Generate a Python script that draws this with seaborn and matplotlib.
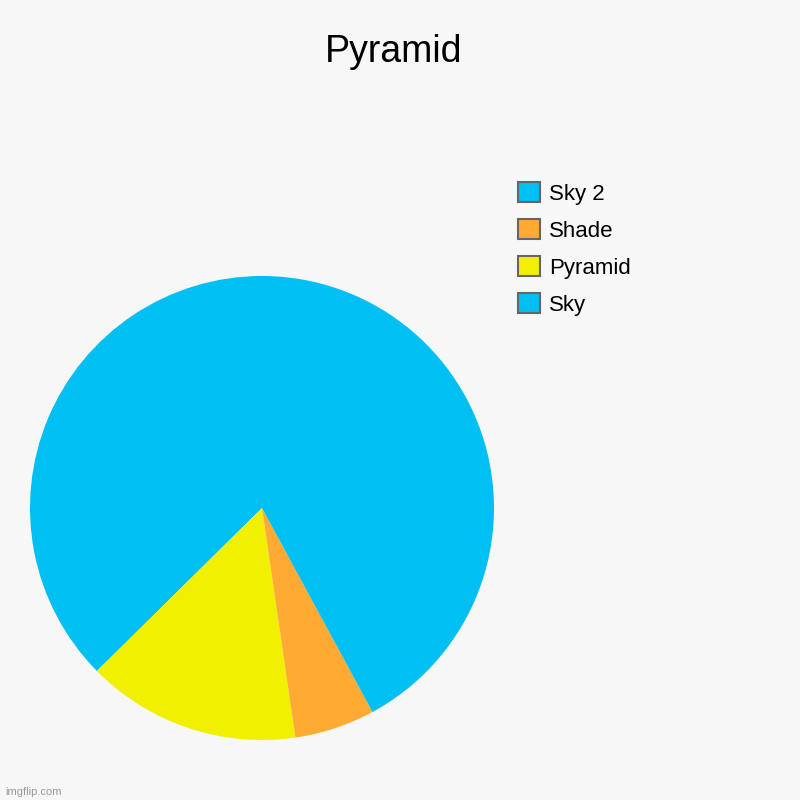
import matplotlib
matplotlib.use("Agg")
import matplotlib.pyplot as plt
from matplotlib.patches import Patch
import seaborn as sns

# ----------- DATOS -----------

etiquetas = ["Sky", "Pyramid", "Shade", "Sky 2"]
valores = [37.4, 14.9, 5.6, 42.1]
colores = ["#00BFF3", "#F0F000", "#FFAA33", "#00BFF3"]

# ----------- ESTILO -----------

sns.set_style("white")
plt.rcParams['font.family'] = ['Liberation Sans', 'DejaVu Sans']
plt.rcParams['text.color'] = 'black'
fondo = "#F7F7F7"

fig = plt.figure(figsize=(8, 8), dpi=100, facecolor=fondo)

# Ejes del pastel (centro ~ (262, 508) px, radio ~ 232 px)
ax = fig.add_axes([0.0375, 0.075, 0.58, 0.58])
ax.set_facecolor(fondo)
ax.pie(valores, colors=colores, startangle=90, counterclock=True,
       wedgeprops=dict(linewidth=0))
ax.set_xlim(-1, 1)
ax.set_ylim(-1, 1)
ax.set_aspect('equal')
ax.axis('off')

fig.suptitle("Pyramid", fontsize=27, x=0.4925, y=0.958, color="black")

# Leyenda en orden inverso
handles = [Patch(facecolor=c, edgecolor="#666666", linewidth=1.5, label=l)
           for l, c in zip(etiquetas, colores)][::-1]
fig.legend(handles=handles, loc='upper left', bbox_to_anchor=(0.6475, 0.7725),
           frameon=False, fontsize=16, handlelength=1.0, handleheight=1.0,
           handletextpad=0.4, labelspacing=0.65, borderpad=0, borderaxespad=0,
           labelcolor='black')

fig.text(0.006, 0.006, "imgflip.com", fontsize=8, color="#999999")

fig.savefig("out.png", dpi=100, facecolor=fondo)
